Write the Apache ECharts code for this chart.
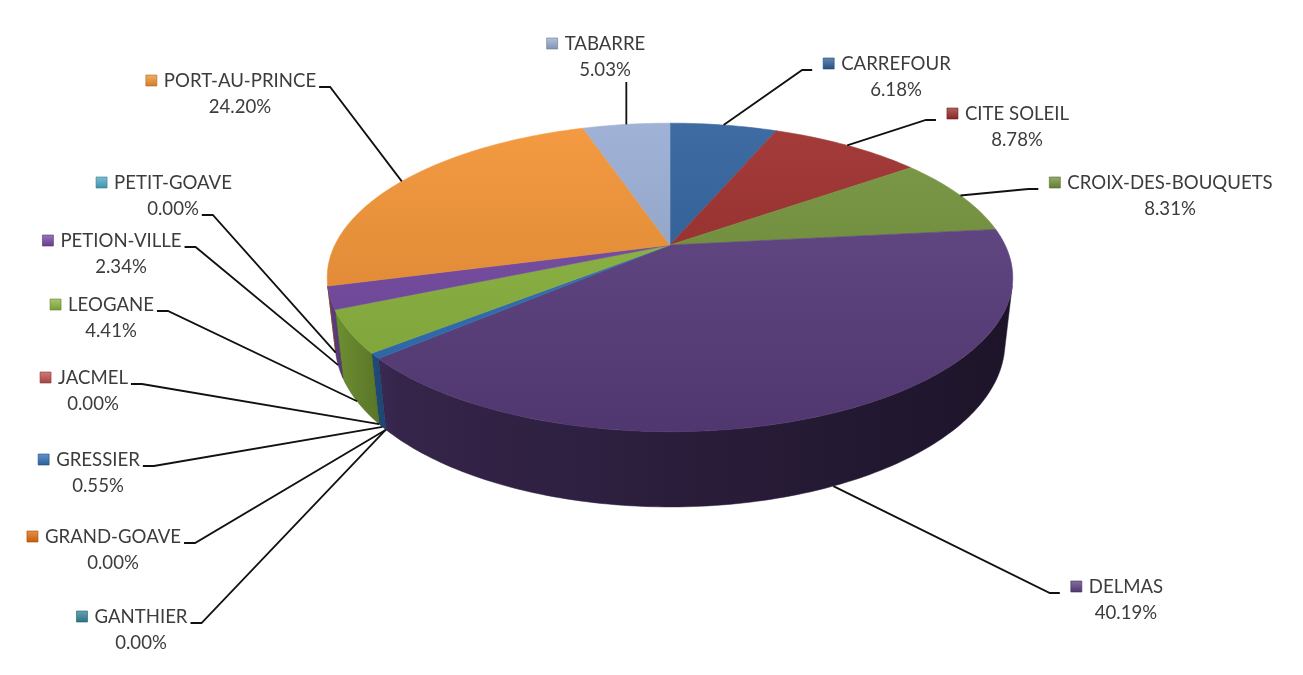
<!DOCTYPE html>
<html>
<head>
<meta charset="utf-8">
<script src="https://cdn.jsdelivr.net/npm/echarts@6/dist/echarts.min.js"></script>
<style>
html, body { margin: 0; background: #fff; }
#chart { width: 1303px; height: 675px; }
</style>
</head>
<body>
<div id="chart"></div>
<script>
// data, clockwise from 12 o'clock
var names = ['CARREFOUR', 'CITE SOLEIL', 'CROIX-DES-BOUQUETS', 'DELMAS', 'GANTHIER', 'GRAND-GOAVE',
    'GRESSIER', 'JACMEL', 'LEOGANE', 'PETION-VILLE', 'PETIT-GOAVE', 'PORT-AU-PRINCE', 'TABARRE'];
var values = [6.18, 8.78, 8.31, 40.19, 0, 0, 0.55, 0, 4.41, 2.34, 0, 24.20, 5.03];
var percentLabels = ['6.18%', '8.78%', '8.31%', '40.19%', '0.00%', '0.00%', '0.55%', '0.00%', '4.41%', '2.34%', '0.00%', '24.20%', '5.03%'];

// styling
var colors = ['#2d5f9b', '#9c2b29', '#72923a', '#5c3f80', '#31859c', '#e46c0a', '#2f70b8',
    '#c0504d', '#8cb63e', '#7448a4', '#4bacc6', '#f39233', '#98acd2'];
// label layout: [name centre x, name y, where the leader joins]
var labelLayout = [
    [896, 64, 'left'], [1017, 114, 'left'], [1170, 183, 'left'], [1126, 587, 'left'],
    [141, 617, 'right'], [113, 537, 'right'], [98, 460, 'right'], [93, 378, 'right'],
    [111, 305, 'right'], [121, 241, 'right'], [173, 183, 'rightPct'], [240, 81, 'right'],
    [605, 44, 'bottom']
];

// 3d projection of the disc
var CX = 670, CY = 245, F = 1432, R = 0.234, H = 0.0508, SA = 0.44, CA = 0.898;
var WALL_LO = Math.acos(-R / CA) * 180 / Math.PI, WALL_HI = 360 - WALL_LO;
function proj(deg, y) {
    var t = deg * Math.PI / 180;
    var X = R * Math.sin(t), Z = R * Math.cos(t);
    var yp = Z * SA + y * CA, d = Z * CA - y * SA;
    return [CX + F * X / (1 + d), CY - F * yp / (1 + d)];
}

var total = values.reduce(function (a, b) { return a + b; }, 0);
var starts = [];
values.reduce(function (acc, v, i) { starts[i] = acc / total * 360; return acc + v; }, 0);

function shade(hex, p) {
    var n = parseInt(hex.slice(1), 16);
    var c = [(n >> 16) & 255, (n >> 8) & 255, n & 255].map(function (x) {
        return Math.round(p < 0 ? x * (1 + p) : x + (255 - x) * p);
    });
    return 'rgb(' + c.join(',') + ')';
}

var FONT = 'Lato';
var ctx = document.createElement('canvas').getContext('2d');
ctx.font = '100px ' + FONT;
var FS = Math.round(100 * 205 / ctx.measureText('CROIX-DES-BOUQUETS').width * 10) / 10;
ctx.font = FS + 'px ' + FONT;
function textW(s) { return ctx.measureText(s).width; }

function renderItem(params, api) {
    var i = params.dataIndex;
    var v = api.value(0);
    var a1 = starts[i], a2 = a1 + v / total * 360;
    var col = colors[i];
    var children = [];
    if (v > 0) {
        var top = [[CX, CY]];
        var n = Math.max(2, Math.ceil(a2 - a1));
        for (var k = 0; k <= n; k++) top.push(proj(a1 + (a2 - a1) * k / n, 0));
        var topFill = new echarts.graphic.LinearGradient(0, 120, 0, 440, [
            { offset: 0, color: shade(col, 0.08) },
            { offset: 1, color: shade(col, -0.14) }
        ], true);
        children.push({
            type: 'polygon', z2: 20,
            shape: { points: top },
            style: { fill: topFill, stroke: topFill, lineWidth: 0.6 }
        });
        var lo = Math.max(a1, WALL_LO), hi = Math.min(a2, WALL_HI);
        if (hi > lo) {
            var wall = [], m = Math.max(2, Math.ceil(hi - lo));
            for (k = 0; k <= m; k++) wall.push(proj(lo + (hi - lo) * k / m, 0));
            for (k = m; k >= 0; k--) wall.push(proj(lo + (hi - lo) * k / m, -H));
            children.push({
                type: 'polygon', z2: 10,
                shape: { points: wall },
                style: {
                    fill: new echarts.graphic.LinearGradient(330, 0, 1012, 0, [
                        { offset: 0, color: shade(col, -0.2) },
                        { offset: 0.1, color: shade(col, -0.42) },
                        { offset: 1, color: shade(col, -0.68) }
                    ], true),
                    stroke: shade(col, -0.5), lineWidth: 0.5
                }
            });
        }
    }

    // label
    var lay = labelLayout[i];
    var nx = lay[0], ny = lay[1], py = ny + 26;
    var nw = textW(names[i]), pw = textW(percentLabels[i]);
    var nLeft = nx - nw / 2, nRight = nx + nw / 2;
    var mLeft = nLeft - 18;
    children.push({
        type: 'rect', z2: 40,
        shape: { x: mLeft, y: ny - 6, width: 11, height: 11 },
        style: {
            fill: new echarts.graphic.LinearGradient(0, 0, 0, 1, [
                { offset: 0, color: shade(col, 0.25) },
                { offset: 1, color: shade(col, -0.15) }
            ]),
            stroke: shade(col, -0.3), lineWidth: 0.6
        }
    });
    children.push({
        type: 'text', z2: 40,
        style: { text: names[i], x: nx, y: ny, fill: '#3c3c3c', fontSize: FS, fontFamily: FONT, align: 'center', verticalAlign: 'middle' }
    });
    children.push({
        type: 'text', z2: 40,
        style: { text: percentLabels[i], x: nx, y: py, fill: '#3c3c3c', fontSize: FS, fontFamily: FONT, align: 'center', verticalAlign: 'middle' }
    });

    // leader line
    var mid = (a1 + a2) / 2;
    var front = Math.cos(mid * Math.PI / 180) < -R / CA;
    var p0 = proj(mid, front ? -H : 0);
    var pts;
    if (lay[2] === 'left') pts = [p0, [mLeft - 21, ny + 6], [mLeft - 11, ny + 6]];
    else if (lay[2] === 'right') pts = [p0, [nRight + 14, ny + 6], [nRight + 3, ny + 6]];
    else if (lay[2] === 'rightPct') pts = [p0, [nx + pw / 2 + 14, py + 6], [nx + pw / 2 + 3, py + 6]];
    else pts = [p0, [p0[0], py + 12]];
    children.push({
        type: 'polyline', z2: 30,
        shape: { points: pts },
        style: { stroke: '#111', lineWidth: 1.8, fill: null }
    });

    return { type: 'group', children: children };
}

var chart = echarts.init(document.getElementById('chart'));
chart.setOption({
    backgroundColor: '#fff',
    animation: false,
    series: [{
        type: 'custom',
        coordinateSystem: 'none',
        renderItem: renderItem,
        data: values.map(function (v, i) { return { name: names[i], value: [v] }; })
    }]
});
</script>
</body>
</html>
